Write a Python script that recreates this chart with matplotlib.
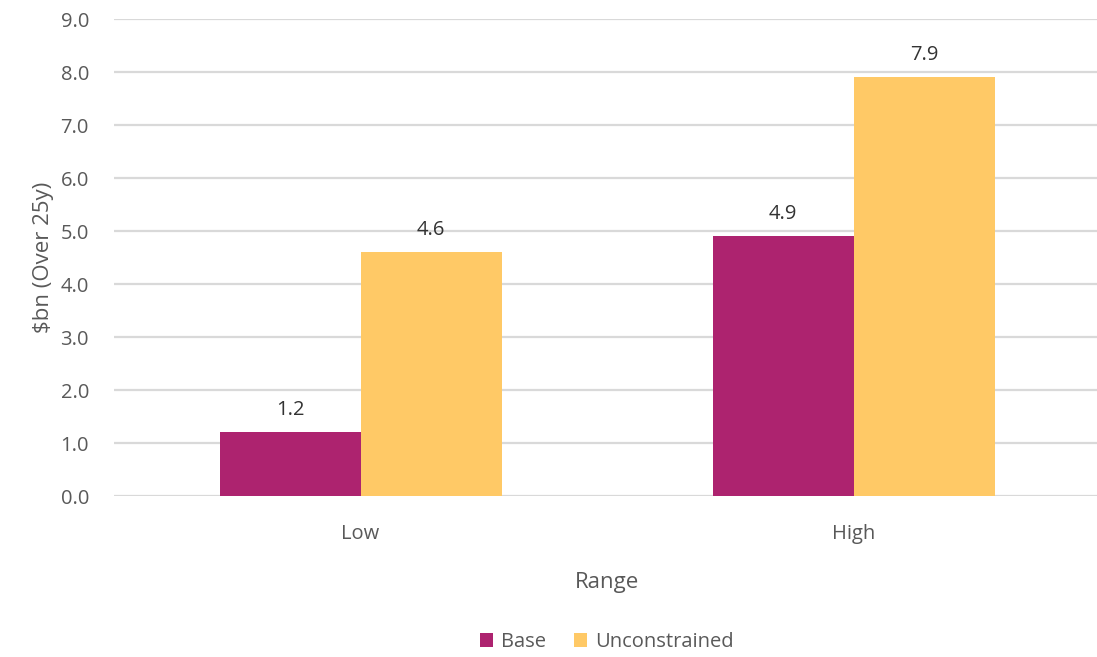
import matplotlib.pyplot as plt
import numpy as np

# data
categories = ['Low', 'High']
series_names = ['Base', 'Unconstrained']
base_vals = [1.2, 4.9]
uncon_vals = [4.6, 7.9]
ytick_vals = [0, 1, 2, 3, 4, 5, 6, 7, 8, 9]

plt.rcParams['font.family'] = ['Open Sans', 'DejaVu Sans']

fig = plt.figure(figsize=(10.97, 6.57), dpi=100)
ax = fig.add_axes([0.1039, 0.245, 0.899, 0.726])

x = np.arange(len(categories))
w = 0.286
b1 = ax.bar(x - w / 2, base_vals, w, color='#AD236F', label=series_names[0], zorder=3)
b2 = ax.bar(x + w / 2, uncon_vals, w, color='#FFC966', label=series_names[1], zorder=3)

# value labels
for bars in (b1, b2):
    for rect in bars:
        h = rect.get_height()
        ax.annotate(f'{h:.1f}', (rect.get_x() + rect.get_width() / 2, h),
                    xytext=(0, 9), textcoords='offset points',
                    ha='center', va='bottom', fontsize=14.5, color='#333333')

ax.set_xlim(-0.5, 1.5)
ax.set_ylim(0, 9)
ax.set_yticks(ytick_vals)
ax.set_yticklabels([f'{v:.1f}' for v in ytick_vals])
ax.set_xticks(x)
ax.set_xticklabels(categories)
ax.grid(axis='y', color='#D9D9D9', linewidth=1.6, zorder=0)
ax.set_axisbelow(True)
for s in ax.spines.values():
    s.set_visible(False)
ax.tick_params(axis='both', length=0, labelsize=14.5, colors='#595959')
ax.tick_params(axis='y', pad=18)
ax.tick_params(axis='x', pad=20)

ax.set_xlabel('Range', fontsize=16, color='#595959', labelpad=20)
ax.set_ylabel('\\$bn (Over 25y)', fontsize=16, color='#595959', labelpad=5)

ax.legend(loc='center', bbox_to_anchor=(0.5, -0.3065), ncol=2, frameon=False,
          fontsize=14.5, labelcolor='#595959', handlelength=0.65, handleheight=0.65,
          handletextpad=0.4, columnspacing=1.4)

fig.savefig('out.png', dpi=100)
